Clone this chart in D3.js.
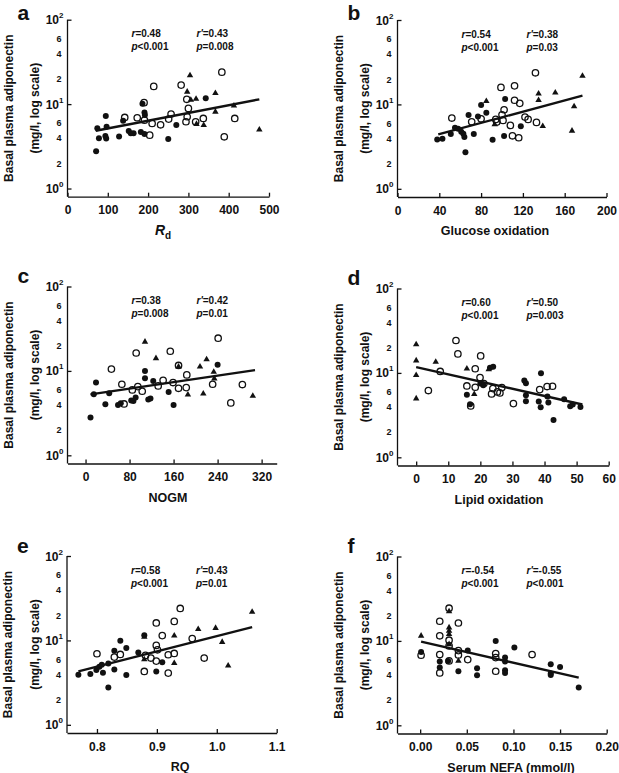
<!DOCTYPE html>
<html><head><meta charset="utf-8">
<script src="https://cdn.jsdelivr.net/npm/d3@7"></script>
<style>
body{margin:0;background:#fff;}
svg{display:block;font-family:"Liberation Sans",Arial,Helvetica,sans-serif;}
</style></head><body>
<svg id="chart" width="619" height="773"></svg>
<script>
// ---------------- data ----------------
const yMajorTicks = [1, 10, 100];
const yMinorTicks = [2, 4, 6, 20, 40, 60];
const xTicksA = [0, 100, 200, 300, 400, 500];
const xTicksB = [0, 40, 80, 120, 160, 200];
const xTicksC = [0, 80, 160, 240, 320];
const xTicksD = [0, 10, 20, 30, 40, 50, 60];
const xTicksE = [0.8, 0.9, 1.0, 1.1];
const xTicksF = [0.00, 0.05, 0.10, 0.15, 0.20];

const panelLetters = ["a", "b", "c", "d", "e", "f"];
const xTitles = ["Rd", "Glucose oxidation", "NOGM", "Lipid oxidation", "RQ", "Serum NEFA (mmol/l)"];
const statR  = ["0.48", "0.54", "0.38", "0.60", "0.58", "-0.54"];
const statP  = ["<0.001", "<0.001", "=0.008", "<0.001", "<0.001", "<0.001"];
const statR2 = ["0.43", "0.38", "0.42", "0.50", "0.43", "-0.55"];
const statP2 = ["=0.008", "=0.03", "=0.01", "=0.003", "=0.01", "<0.001"];

const aFilled = [[71,2.77],[74,5.19],[78,3.95],[94,4.18],[96,3.92],[95,7.21],[97,5.38],[128,4.14],[138,6.34],[152,4.79],[157,4.53],[164,4.53],[182,4.66],[191,4.41],[186,10.1],[191,7.96],[192,7.41],[250,3.85],[270,5.64],[343,11.7]];
const aOpen = [[142,6.95],[173,6.89],[191,6.46],[190,10.4],[214,16.2],[210,5.90],[231,5.69],[204,4.29],[251,6.64],[257,7.61],[282,16.8],[296,11.4],[300,8.89],[294,6.18],[297,7.08],[318,6.18],[337,6.76],[383,23.9],[389,4.10],[415,6.76]];
const aTri = [[304,21.9],[297,14.0],[306,11.2],[319,11.5],[320,5.80],[338,5.64],[367,13.5],[367,8.11],[413,9.56],[476,4.97]];
const aFit = [[70,4.83],[476,11.4]];

const bFilled = [[38,3.85],[43,3.92],[51,4.45],[55,5.28],[58,5.14],[61,4.74],[63,4.49],[64,4.10],[65,2.72],[68,7.48],[73,4.45],[77,7.21],[80,9.82],[85,7.96],[91,3.81],[103,11.6],[102,4.22],[118,5.53]];
const bOpen = [[52,6.89],[71,6.22],[80,6.76],[94,6.64],[99,15.9],[100,7.54],[102,8.65],[101,6.46],[95,6.18],[108,5.64],[110,4.25],[116,4.03],[112,16.6],[112,11.2],[117,10.3],[122,7.08],[125,6.64],[133,6.12],[132,23.7]];
const bTri = [[85,10.9],[93,5.80],[135,13.4],[135,11.2],[139,5.53],[151,13.8],[169,9.47],[167,4.87],[177,21.7]];
const bFit = [[39,4.41],[177,12.7]];

const cFilled = [[9,2.80],[15,5.28],[19,7.28],[36,4.03],[43,5.43],[59,3.95],[64,4.14],[83,4.45],[87,4.41],[91,4.83],[108,10.0],[108,8.19],[114,4.57],[118,4.70],[123,7.61],[151,5.64],[160,3.95],[240,11.8]];
const cOpen = [[47,10.5],[66,6.95],[70,4.06],[85,5.96],[92,16.3],[95,6.52],[103,5.74],[132,6.64],[141,7.74],[154,17.1],[159,7.28],[169,11.6],[169,6.22],[184,8.97],[183,6.34],[231,6.95],[241,24.4],[264,4.18],[285,6.89]];
const cTri = [[108,22.1],[128,14.1],[169,11.2],[186,5.24],[208,11.2],[214,5.38],[220,13.7],[233,9.73],[234,8.11],[304,5.06]];
const cFit = [[9,5.28],[308,10.2]];

const dFilled = [[15.8,5.53],[16.8,4.25],[20.0,7.48],[20.9,7.14],[23.0,11.5],[24.0,11.8],[33.7,8.11],[34.2,7.54],[34.2,5.43],[34.2,4.61],[38.2,4.57],[38.9,9.91],[38.8,3.92],[40.9,5.24],[41.2,4.45],[42.8,2.77],[46.1,4.87],[48.0,4.03],[48.8,4.22],[51.2,3.95]];
const dOpen = [[3.8,6.18],[7.5,10.4],[12.4,24.2],[13.0,16.8],[20.1,15.9],[15.8,7.01],[18.4,11.2],[18.4,6.76],[17.0,4.06],[19.9,8.81],[21.1,7.48],[23.5,5.64],[23.9,6.52],[25.3,5.96],[26.1,5.80],[26.7,6.70],[30.3,4.33],[38.5,6.34],[40.8,6.89],[42.5,6.95]];
const dTri = [[0,21.7],[0,14.0],[0,9.38],[0,4.97],[6.1,13.5],[15.8,11.2],[18.1,5.59],[22.6,11.0]];
const dFit = [[0,11.7],[51.8,4.22]];

const eFilled = [[0.769,3.92],[0.789,3.99],[0.799,4.45],[0.804,4.87],[0.808,5.14],[0.810,4.14],[0.819,5.33],[0.819,2.77],[0.829,7.54],[0.829,4.53],[0.839,9.91],[0.849,8.11],[0.849,3.88],[0.869,7.21],[0.879,11.5],[0.899,4.29],[0.909,5.53]];
const eOpen = [[0.800,6.95],[0.829,6.34],[0.839,6.82],[0.879,4.29],[0.881,6.64],[0.890,6.18],[0.899,16.1],[0.899,8.73],[0.901,7.74],[0.899,5.69],[0.909,11.4],[0.919,6.76],[0.919,4.10],[0.929,16.8],[0.929,7.01],[0.939,23.9],[0.959,10.5],[0.979,6.18]];
const eTri = [[0.879,11.0],[0.879,5.96],[0.929,11.4],[0.929,5.38],[0.969,13.6],[0.998,14.0],[1.009,9.56],[1.019,5.01],[1.059,21.7]];
const eFit = [[0.769,4.29],[1.059,14.4]];

const fFilled = [[0.001,7.41],[0.021,5.69],[0.021,4.83],[0.030,5.80],[0.041,4.37],[0.051,7.68],[0.061,4.74],[0.061,3.92],[0.081,10.0],[0.091,6.34],[0.091,5.69],[0.091,4.49],[0.091,4.18],[0.101,8.34],[0.140,5.28],[0.140,4.10],[0.140,3.95],[0.150,4.92],[0.170,2.80]];
const fOpen = [[0.001,6.76],[0.021,17.1],[0.021,11.5],[0.021,6.89],[0.021,4.18],[0.031,24.4],[0.031,10.2],[0.031,8.73],[0.031,5.80],[0.041,16.3],[0.041,7.68],[0.041,6.82],[0.051,6.01],[0.081,7.08],[0.081,6.34],[0.081,4.37],[0.120,6.89]];
const fTri = [[0.001,11.5],[0.031,22.3],[0.031,14.4],[0.031,13.1],[0.031,12.0],[0.031,9.12],[0.041,5.80]];
const fFit = [[0.001,9.82],[0.170,3.67]];

// ---------------- layout ----------------
const layout = [
  {axisX:67.5, axisY:196.7, right:269,   xDomain:[0,500],          ticks:xTicksA, fmt:d3.format("d"),   letterY:19.5, titleX:163},
  {axisX:397.5,axisY:197,   right:606.5, xDomain:[0,200],          ticks:xTicksB, fmt:d3.format("d"),   letterY:19.5, titleX:495},
  {axisX:67.5, axisY:463.5, right:276.7, xDomain:[-32.8,347.4],    ticks:xTicksC, fmt:d3.format("d"),   letterY:283, titleX:168},
  {axisX:397.5,axisY:465.5, right:608.7, xDomain:[-5.82,60],       ticks:xTicksD, fmt:d3.format("d"),   letterY:285, titleX:499},
  {axisX:67,   axisY:733,   right:276.7, xDomain:[0.75,1.1],       ticks:xTicksE, fmt:d3.format(".1f"), letterY:553, titleX:180},
  {axisX:397.5,axisY:733.5, right:606.7, xDomain:[-0.0243,0.2],    ticks:xTicksF, fmt:d3.format(".2f"), letterY:553, titleX:511}
];
const seriesFilled = [aFilled,bFilled,cFilled,dFilled,eFilled,fFilled];
const seriesOpen = [aOpen,bOpen,cOpen,dOpen,eOpen,fOpen];
const seriesTri = [aTri,bTri,cTri,dTri,eTri,fTri];
const seriesFit = [aFit,bFit,cFit,dFit,eFit,fFit];

const svg = d3.select("#chart");
const FONT_W = "bold";

layout.forEach((L, i) => {
  const g = svg.append("g");
  const x = d3.scaleLinear().domain(L.xDomain).range([L.axisX, L.right]);
  const y = d3.scaleLog().domain([0.8, 100]).range([L.axisY, L.axisY - 177]);

  // x axis
  const xAxis = d3.axisBottom(x).tickValues(L.ticks).tickFormat(L.fmt).tickSize(-4).tickSizeOuter(0);
  const gx = g.append("g").attr("transform", `translate(0,${L.axisY})`).call(xAxis);
  gx.select(".domain").attr("stroke", "#111").attr("stroke-width", 1.3);
  gx.selectAll(".tick line").attr("stroke", "#111").attr("stroke-width", 1.3);
  gx.selectAll(".tick text").attr("y", 9).attr("font-size", 12).attr("font-weight", FONT_W)
    .attr("fill", "#111").attr("font-family", '"Liberation Sans",Arial,sans-serif');

  // y axis
  const yAxis = d3.axisLeft(y).tickValues(yMajorTicks).tickFormat("").tickSize(-4).tickSizeOuter(0);
  const gy = g.append("g").attr("transform", `translate(${L.axisX},0)`).call(yAxis);
  gy.select(".domain").attr("stroke", "#111").attr("stroke-width", 1.3)
    .attr("d", `M0,${y(100)}V${L.axisY}`);
  gy.selectAll(".tick line").attr("stroke", "#111").attr("stroke-width", 1.3);

  // major labels 10^n
  yMajorTicks.forEach(v => {
    const t = g.append("text").attr("x", L.axisX - 4).attr("y", y(v) + 4.5)
      .attr("text-anchor", "end").attr("font-weight", FONT_W).attr("fill", "#111");
    t.append("tspan").attr("font-size", 12).text("10");
    t.append("tspan").attr("font-size", 8).attr("dy", -6).text(String(Math.round(Math.log10(v))));
  });
  // minor labels
  yMinorTicks.forEach(v => {
    g.append("text").attr("x", L.axisX - 6).attr("y", y(v) + 3.5)
      .attr("text-anchor", "end").attr("font-size", 9).attr("font-weight", FONT_W).attr("fill", "#111")
      .text(String(v >= 10 ? v / 10 : v));
  });

  // y title
  const ymid = (y(100) + L.axisY) / 2;
  g.append("text").attr("transform", `translate(${L.axisX - 55},${ymid}) rotate(-90)`)
    .attr("text-anchor", "middle").attr("font-size", 12).attr("font-weight", FONT_W).attr("fill", "#111")
    .text("Basal plasma adiponectin");
  g.append("text").attr("transform", `translate(${L.axisX - 28.5},${ymid}) rotate(-90)`)
    .attr("text-anchor", "middle").attr("font-size", 12).attr("font-weight", FONT_W).attr("fill", "#111")
    .text("(mg/l, log scale)");

  // x title
  const xt = g.append("text").attr("x", L.titleX).attr("y", L.axisY + 38)
    .attr("text-anchor", "middle").attr("font-size", 12.5).attr("font-weight", FONT_W).attr("fill", "#111");
  if (i === 0) {
    xt.append("tspan").attr("font-style", "italic").attr("font-size", 14).text(xTitles[i].charAt(0));
    xt.append("tspan").attr("font-size", 10).attr("dy", 4).text(xTitles[i].slice(1));
  } else {
    xt.text(xTitles[i]);
  }

  // panel letter
  g.append("text").attr("x", L.axisX - 50).attr("y", L.letterY)
    .attr("font-size", 21).attr("font-weight", FONT_W).attr("fill", "#111").text(panelLetters[i]);

  // stats
  const top = y(100);
  const statLine = (xx, yy, sym, val) => {
    const t = g.append("text").attr("x", xx).attr("y", yy).attr("font-size", 10)
      .attr("font-weight", FONT_W).attr("fill", "#111");
    t.append("tspan").attr("font-style", "italic").text(sym);
    t.append("tspan").text(val);
  };
  statLine(L.axisX + 64, top + 17.5, "r", "=" + statR[i]);
  statLine(L.axisX + 64, top + 30.5, "p", statP[i]);
  statLine(L.axisX + 129, top + 17.5, "r'", "=" + statR2[i]);
  statLine(L.axisX + 129, top + 30.5, "p", statP2[i]);

  // points
  g.append("g").selectAll("circle").data(seriesFilled[i]).join("circle")
    .attr("cx", d => x(d[0])).attr("cy", d => y(d[1])).attr("r", 3.0).attr("fill", "#111");
  g.append("g").selectAll("circle").data(seriesOpen[i]).join("circle")
    .attr("cx", d => x(d[0])).attr("cy", d => y(d[1])).attr("r", 3.2)
    .attr("fill", "none").attr("stroke", "#111").attr("stroke-width", 1.3);
  const tri = d3.symbol().type(d3.symbolTriangle).size(18);
  g.append("g").selectAll("path").data(seriesTri[i]).join("path")
    .attr("transform", d => `translate(${x(d[0])},${y(d[1])})`).attr("d", tri).attr("fill", "#111");

  // fit line
  g.append("path").datum(seriesFit[i])
    .attr("d", d3.line().x(d => x(d[0])).y(d => y(d[1])))
    .attr("stroke", "#111").attr("stroke-width", 2.4).attr("fill", "none");
});
</script>
</body></html>
